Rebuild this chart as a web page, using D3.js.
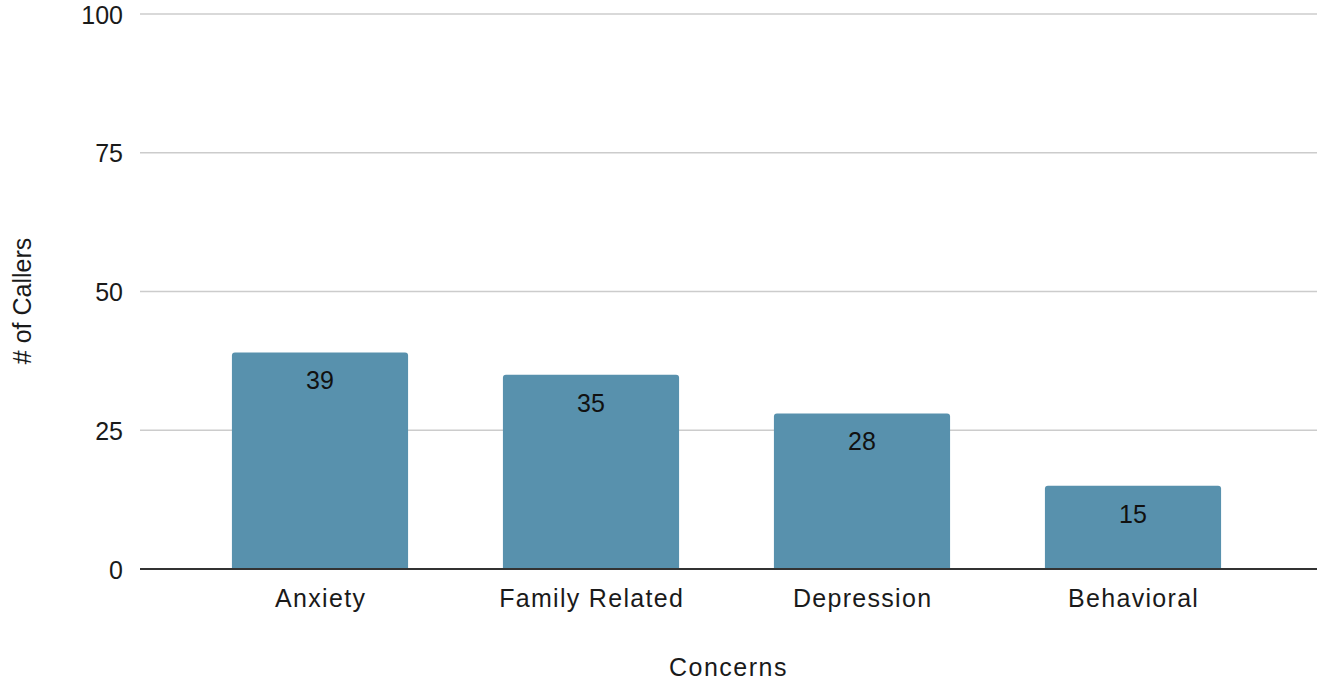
<!DOCTYPE html>
<html>
<head>
<meta charset="utf-8">
<script src="https://cdn.jsdelivr.net/npm/d3@7"></script>
<style>
html,body{margin:0;padding:0;background:#fff;}
text{font-family:"Liberation Sans",Arial,sans-serif;}
</style>
</head>
<body>
<svg id="chart" width="1317" height="681"></svg>
<script>
const categories = ["Anxiety", "Family Related", "Depression", "Behavioral"];
const values = [39, 35, 28, 15];
const yTicks = [0, 25, 50, 75, 100];
const xTitle = "Concerns";
const yTitle = "# of Callers";

const svg = d3.select("#chart");
const mLeft = 140, mRight = 1317, mTop = 14, mBottom = 569;
const fs = 25;

const y = d3.scaleLinear().domain([0, 100]).range([mBottom, mTop]);
const x = d3.scaleBand().domain(categories).range([184.5, 1268.5]).paddingInner(0.35).paddingOuter(0.175);

// gridlines
svg.append("g").selectAll("line").data(yTicks.filter(d => d > 0)).join("line")
  .attr("x1", mLeft).attr("x2", mRight)
  .attr("y1", d => y(d)).attr("y2", d => y(d))
  .attr("stroke", "#cccccc").attr("stroke-width", 1.5);

// y tick labels
svg.append("g").selectAll("text").data(yTicks).join("text")
  .attr("x", 123).attr("y", d => y(d)).attr("dy", "0.38em")
  .attr("text-anchor", "end").attr("font-size", fs).attr("fill", "#1a1a1a")
  .text(d => d);

// bars with rounded top corners
const r = 3;
svg.append("g").selectAll("path").data(values).join("path")
  .attr("fill", "#5891ad")
  .attr("d", (d, i) => {
    const x0 = x(categories[i]), w = x.bandwidth(), y0 = y(d), y1 = y(0);
    return `M${x0},${y1}V${y0 + r}Q${x0},${y0} ${x0 + r},${y0}H${x0 + w - r}Q${x0 + w},${y0} ${x0 + w},${y0 + r}V${y1}Z`;
  });

// value labels
svg.append("g").selectAll("text").data(values).join("text")
  .attr("x", (d, i) => x(categories[i]) + x.bandwidth() / 2)
  .attr("y", d => y(d) + 28).attr("dy", "0.35em")
  .attr("text-anchor", "middle").attr("font-size", fs).attr("fill", "#111")
  .text(d => d);

// baseline
svg.append("line").attr("x1", mLeft).attr("x2", mRight)
  .attr("y1", y(0)).attr("y2", y(0)).attr("stroke", "#333").attr("stroke-width", 2);

// x labels
svg.append("g").selectAll("text").data(categories).join("text")
  .attr("x", d => x(d) + x.bandwidth() / 2 + 0.65).attr("y", 598).attr("dy", "0.35em")
  .attr("text-anchor", "middle").attr("font-size", fs).attr("letter-spacing", 1.3).attr("fill", "#1a1a1a")
  .text(d => d);

// axis titles
svg.append("text").attr("x", 728.5).attr("y", 667.5).attr("dy", "0.35em")
  .attr("text-anchor", "middle").attr("font-size", fs).attr("letter-spacing", 1.5).attr("fill", "#1a1a1a").text(xTitle);
svg.append("text").attr("transform", "translate(22,301) rotate(-90)").attr("dy", "0.35em")
  .attr("text-anchor", "middle").attr("font-size", fs).attr("fill", "#1a1a1a").text(yTitle);
</script>
</body>
</html>
